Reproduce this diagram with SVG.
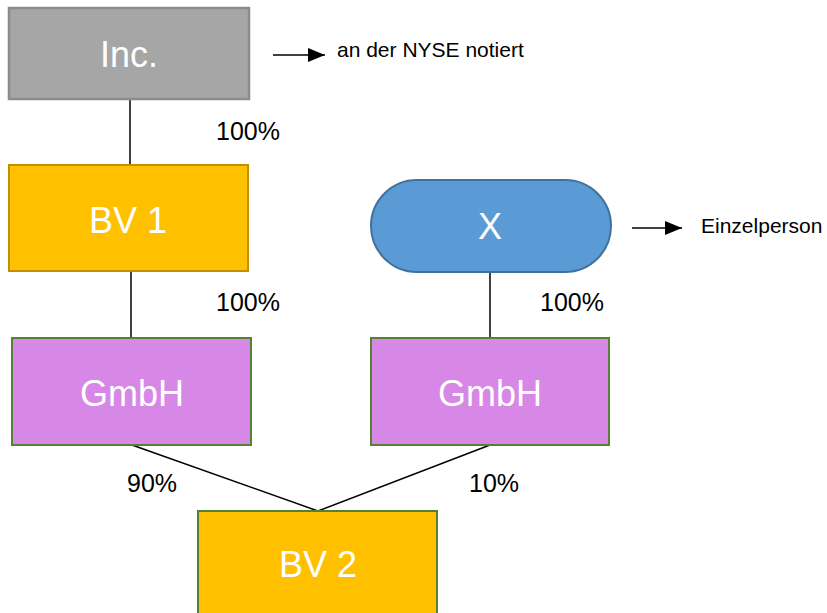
<svg xmlns="http://www.w3.org/2000/svg" width="827" height="613" viewBox="0 0 827 613">
<style>
.lbl{font-family:"Liberation Sans",Arial,sans-serif;fill:#fff;font-size:36px;text-anchor:middle}
.pct{font-family:"Liberation Sans",Arial,sans-serif;fill:#000;font-size:25px}
.note{font-family:"Liberation Sans",Arial,sans-serif;fill:#000;font-size:21px}
.ln{stroke:#000;stroke-width:1.5;fill:none}
</style>
<defs>
<marker id="ah" markerWidth="17" markerHeight="14" refX="17" refY="7" orient="auto" markerUnits="userSpaceOnUse">
<path d="M0,0 L17,7 L0,14 Z" fill="#000"/>
</marker>
</defs>
<rect width="827" height="613" fill="#fff"/>
<g id="connectors">
<line class="ln" x1="130" y1="99" x2="130" y2="165"/>
<line class="ln" x1="131" y1="271" x2="131" y2="338"/>
<line class="ln" x1="490" y1="272" x2="490" y2="338"/>
<line class="ln" x1="132" y1="445" x2="318" y2="511"/>
<line class="ln" x1="490" y1="445" x2="318" y2="511"/>
<line class="ln" x1="273" y1="55" x2="325" y2="55" marker-end="url(#ah)"/>
<line class="ln" x1="632" y1="228" x2="682" y2="228" marker-end="url(#ah)"/>
</g>
<g id="inc">
<rect x="9" y="8" width="240" height="91" fill="#a6a6a6" stroke="#8c8c8c" stroke-width="2.5"/>
<text class="lbl" x="129" y="67">Inc.</text>
</g>
<g id="bv1">
<rect x="9" y="165" width="239" height="106" fill="#ffc000" stroke="#bf9000" stroke-width="2"/>
<text class="lbl" x="128" y="233">BV 1</text>
</g>
<g id="x">
<rect x="371" y="180" width="240" height="92" rx="46" ry="46" fill="#5b9bd5" stroke="#41719c" stroke-width="2"/>
<text class="lbl" x="490" y="239">X</text>
</g>
<g id="gmbh1">
<rect x="12" y="338" width="239" height="107" fill="#d787e5" stroke="#548235" stroke-width="2"/>
<text class="lbl" x="132" y="406">GmbH</text>
</g>
<g id="gmbh2">
<rect x="371" y="338" width="238" height="107" fill="#d787e5" stroke="#548235" stroke-width="2"/>
<text class="lbl" x="490" y="406">GmbH</text>
</g>
<g id="bv2">
<rect x="198" y="511" width="239" height="110" fill="#ffc000" stroke="#548235" stroke-width="2"/>
<text class="lbl" x="318" y="577">BV 2</text>
</g>
<g id="labels">
<text class="pct" x="216" y="140">100%</text>
<text class="pct" x="216" y="311">100%</text>
<text class="pct" x="540" y="311">100%</text>
<text class="pct" x="127" y="492">90%</text>
<text class="pct" x="469" y="492">10%</text>
<text class="note" x="337" y="57">an der NYSE notiert</text>
<text class="note" x="701" y="233">Einzelperson</text>
</g>
</svg>
